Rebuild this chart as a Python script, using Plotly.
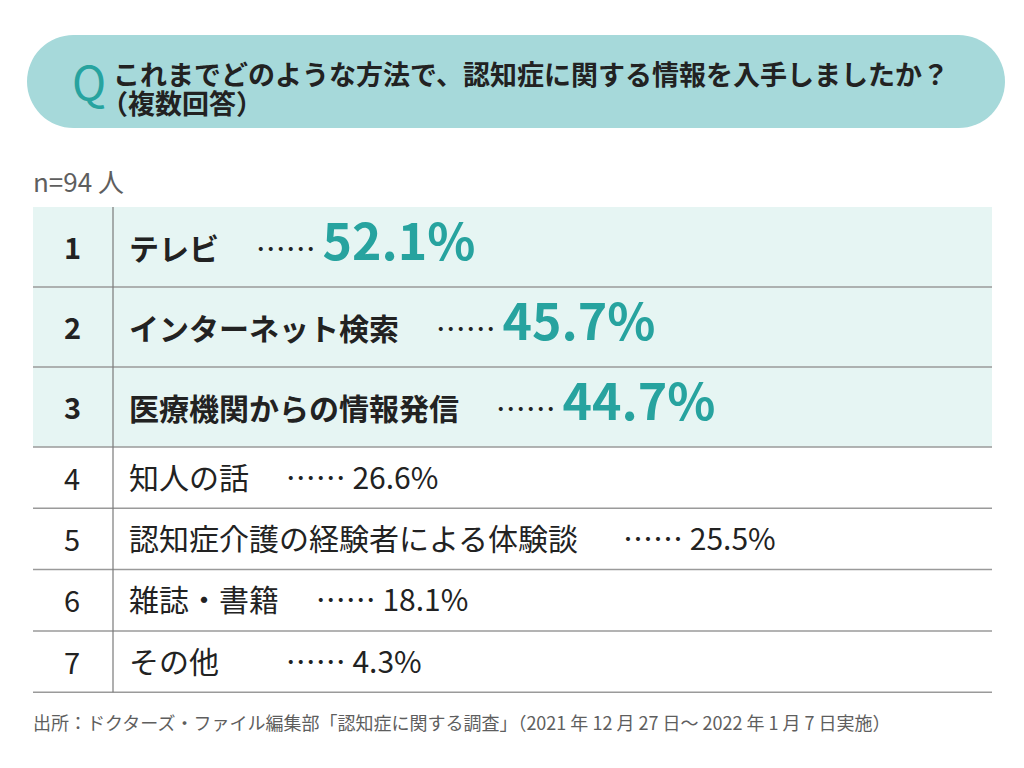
import plotly.graph_objects as go

# データ
ranks = [1, 2, 3, 4, 5, 6, 7]
labels = ["テレビ", "インターネット検索", "医療機関からの情報発信", "知人の話",
          "認知症介護の経験者による体験談", "雑誌・書籍", "その他"]
values = [52.1, 45.7, 44.7, 26.6, 25.5, 18.1, 4.3]
gaps = ["　 ", "　 ", "　 ", "　 ", "　\u2002", "　 ", "　　 "]
n_people = 94

title_line1 = "これまでどのような方法で、認知症に関する情報を入手しましたか？"
title_line2 = "（複数回答）"
source = "出所：ドクターズ・ファイル編集部「認知症に関する調査」（2021 年 12 月 27 日〜 2022 年 1 月 7 日実施）"

FONT = "Noto Sans CJK JP"
TEAL = "#27A39F"
PILL = "#A6D9DA"
ROW_BG = "#E6F5F3"
LINE = "#9A9A9A"
TEXT = "#222222"
GREY = "#5E5E5E"

# ページの余白 (body margin 8px) を考慮して 1px = 1 単位にする
OFF = 8
W, H = 1024, 768
TX0, TX1 = 33, 992
COL_X = 113
TOP = 207
BIG_H = 80
SMALL_H = 61.3
N_BIG = 3

fig = go.Figure()
shapes = []
annotations = []

# タイトル (角丸の帯)
x0, x1, y0, y1 = 27, 1005, 35, 128
r = (y1 - y0) / 2
shapes.append(dict(type="rect", xref="x", yref="y", x0=x0 + r, x1=x1 - r, y0=y0, y1=y1,
                   fillcolor=PILL, line=dict(width=0), layer="below"))
for cx in (x0 + r, x1 - r):
    shapes.append(dict(type="circle", xref="x", yref="y", x0=cx - r, x1=cx + r, y0=y0, y1=y1,
                       fillcolor=PILL, line=dict(width=0), layer="below"))
annotations.append(dict(x=89, y=80, text="Q", showarrow=False, xanchor="center", yanchor="middle",
                        font=dict(family="Liberation Sans Narrow, " + FONT, size=46, color=TEAL)))
annotations.append(dict(x=111, y=73, text=f"<b>{title_line1}</b>", showarrow=False,
                        xanchor="left", yanchor="middle", font=dict(family=FONT, size=27, color=TEXT)))
annotations.append(dict(x=99, y=102, text=f"<b>{title_line2}</b>", showarrow=False,
                        xanchor="left", yanchor="middle", font=dict(family=FONT, size=27, color=TEXT)))

annotations.append(dict(x=31, y=180, text=f"n={n_people} 人", showarrow=False,
                        xanchor="left", yanchor="middle", font=dict(family=FONT, size=26, color=GREY)))

# 表
y = TOP
for i, (rk, lab, val, gap) in enumerate(zip(ranks, labels, values, gaps)):
    big = i < N_BIG
    h = BIG_H if big else SMALL_H
    yc = y + h / 2
    if big:
        shapes.append(dict(type="rect", xref="x", yref="y", x0=TX0, x1=TX1, y0=y, y1=y + h,
                           fillcolor=ROW_BG, line=dict(width=0), layer="below"))
        rank_txt = f"<b>{rk}</b>"
        txt = (f"<b>{lab}</b>{gap}…… <span style='font-size:50px;color:{TEAL}'>"
               f"<b>{val:.1f}%</b></span>")
        ty = yc - 9
    else:
        rank_txt = str(rk)
        txt = f"{lab}{gap}…… {val:.1f}%"
        ty = yc - 2
    annotations.append(dict(x=72, y=yc - 1, text=rank_txt, showarrow=False, xanchor="center",
                            yanchor="middle", font=dict(family=FONT, size=29, color=TEXT)))
    annotations.append(dict(x=127, y=ty, text=txt, showarrow=False,
                            xanchor="left", yanchor="middle",
                            font=dict(family=FONT, size=30, color=TEXT)))
    y += h
    shapes.append(dict(type="line", xref="x", yref="y", x0=TX0, x1=TX1, y0=y, y1=y,
                       line=dict(color=LINE, width=1.5)))

shapes.append(dict(type="line", xref="x", yref="y", x0=COL_X, x1=COL_X, y0=TOP, y1=y,
                   line=dict(color="#7A7A7A", width=1.2)))

annotations.append(dict(x=31, y=722, text=source, showarrow=False, xanchor="left",
                        yanchor="middle", font=dict(family=FONT, size=18, color=GREY)))

fig.update_layout(
    width=W - OFF, height=H - OFF,
    margin=dict(l=0, r=0, t=0, b=0),
    paper_bgcolor="white", plot_bgcolor="white",
    xaxis=dict(range=[OFF, W], visible=False, fixedrange=True),
    yaxis=dict(range=[H, OFF], visible=False, fixedrange=True),
    shapes=shapes, annotations=annotations,
    showlegend=False,
)
fig.write_html("out.html")
